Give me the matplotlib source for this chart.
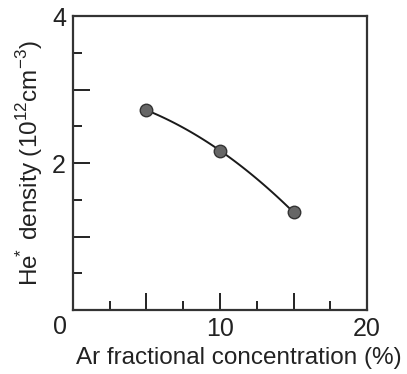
import matplotlib
matplotlib.use('Agg')
import matplotlib.pyplot as plt
import numpy as np

plt.rcParams['font.family'] = ['Liberation Sans', 'DejaVu Sans']
plt.rcParams['mathtext.fontset'] = 'custom'
plt.rcParams['mathtext.rm'] = 'Liberation Sans'

# Ar fraction (%) vs He* density (1e12 cm^-3)
ar_conc = [5.0, 10.0, 15.0]
he_density = [2.72, 2.17, 1.33]

x_major = [0, 5, 10, 15, 20]
x_labels = ['', '', '10', '', '20']
y_major = [0, 1, 2, 3, 4]
y_labels = ['', '', '2', '', '4']

fig = plt.figure(figsize=(4.07, 3.74), dpi=100)
ax = fig.add_axes([0.179, 0.171, 0.723, 0.786])

# smooth curve through the three points
coef = np.polyfit(ar_conc, he_density, 2)
xs = np.linspace(ar_conc[0], ar_conc[-1], 100)
ax.plot(xs, np.polyval(coef, xs), color='#1a1a1a', lw=1.4, zorder=2)
ax.plot(ar_conc, he_density, 'o', ms=9, mfc='#666666', mec='#333333', mew=1, zorder=3)

ax.set_xlim(0, 20)
ax.set_ylim(0, 4)
ax.set_xticks(x_major)
ax.set_xticklabels(x_labels)
ax.set_xticks(np.arange(2.5, 20, 5), minor=True)
ax.set_yticks(y_major)
ax.set_yticklabels(y_labels)
ax.set_yticks(np.arange(0.5, 4, 1), minor=True)

ax.tick_params(which='both', direction='in', top=False, right=False, labelsize=18,
               width=1.4, color='#222222', labelcolor='#222222')
ax.tick_params(which='major', length=12.5, pad=5)
ax.tick_params(which='minor', length=6.5)
for s in ax.spines.values():
    s.set_linewidth(1.6)
    s.set_color('#333333')

# shared origin label
ax.annotate('0', xy=(0, 0), xytext=(-9, -12), textcoords='offset points',
            ha='center', va='center', fontsize=18, color='#222222')

ax.set_xlabel('Ar fractional concentration (%)', fontsize=17.5, color='#222222', labelpad=6)
ax.xaxis.set_label_coords(0.565, -0.125)
ax.set_ylabel(r'He$^{\!\!*}$ density (10$^{12}$cm$^{-3}$)', fontsize=17.5,
              color='#222222', labelpad=5)

fig.savefig('out.png', dpi=100)
